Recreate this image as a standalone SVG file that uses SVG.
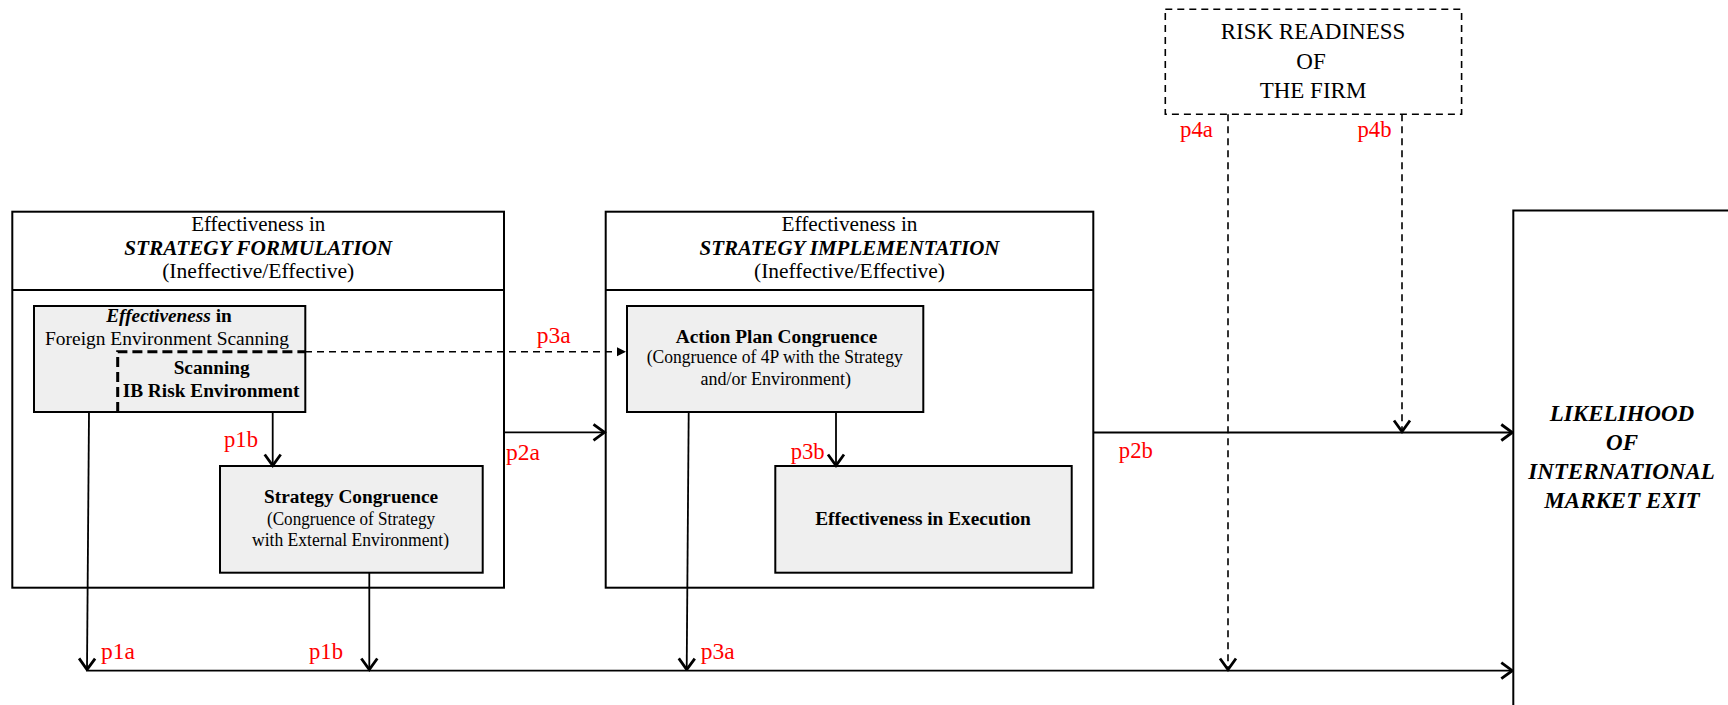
<svg xmlns="http://www.w3.org/2000/svg" width="1728" height="705" viewBox="0 0 1728 705">
  <defs>
    <style>
      text { font-family: "Liberation Serif", "Times New Roman", serif; fill: #000; }
      .hdr { font-size: 21px; text-anchor: middle; }
      .bi { font-weight: bold; font-style: italic; }
      .b { font-weight: bold; }
      .box { font-size: 19.3px; text-anchor: middle; }
      .sub { font-size: 18px; text-anchor: middle; }
      .lbl { font-size: 24px; fill: #ff0000; }
      .frame { fill: #fff; stroke: #000; stroke-width: 2; }
      .inner { fill: #efefef; stroke: #000; stroke-width: 2; }
      .conn { fill: none; stroke: #000; stroke-width: 1.8; }
      .dash { fill: none; stroke: #000; stroke-width: 1.6; stroke-dasharray: 7 5; }
    </style>
    <marker id="open" viewBox="-14 -11 16 22" refX="0" refY="0" markerWidth="16" markerHeight="22" markerUnits="userSpaceOnUse" orient="auto">
      <path d="M-11,-8 L0,0 L-11,8" fill="none" stroke="#000" stroke-width="2.8" stroke-dasharray="none"/>
    </marker>
    <marker id="solid" viewBox="-10 -6 12 12" refX="0" refY="0" markerWidth="12" markerHeight="12" markerUnits="userSpaceOnUse" orient="auto">
      <path d="M-9,-4.5 L0,0 L-9,4.5 Z" fill="#000" stroke="none"/>
    </marker>
  </defs>

  <rect width="1728" height="705" fill="#fff"/>

  <!-- Strategy formulation frame -->
  <g id="formulation">
    <rect class="frame" x="12.3" y="211.7" width="491.7" height="376"/>
    <line x1="12.3" y1="290" x2="504" y2="290" stroke="#000" stroke-width="2"/>
    <text class="hdr" x="258.2" y="230.5" textLength="134" lengthAdjust="spacingAndGlyphs">Effectiveness in</text>
    <text class="hdr bi" x="258.2" y="254.7" textLength="268" lengthAdjust="spacingAndGlyphs">STRATEGY FORMULATION</text>
    <text class="hdr" x="258.2" y="278" textLength="192" lengthAdjust="spacingAndGlyphs">(Ineffective/Effective)</text>
  </g>

  <!-- Environment scanning box with nested IB risk scanning -->
  <g id="scanning">
    <rect class="inner" x="34" y="306" width="271.3" height="106"/>
    <text class="box" x="169" y="321.7"><tspan class="bi">Effectiveness</tspan><tspan class="b"> in</tspan></text>
    <text class="box" x="167" y="345" font-size="19.4" textLength="244" lengthAdjust="spacingAndGlyphs">Foreign Environment Scanning</text>
    <path d="M117.7,412 V351.7 H305" fill="none" stroke="#000" stroke-width="3" stroke-dasharray="10 5"/>
    <text class="box b" x="211.7" y="374">Scanning</text>
    <text class="box b" x="211" y="396.7" textLength="176.7" lengthAdjust="spacingAndGlyphs">IB Risk Environment</text>
  </g>

  <!-- Strategy congruence box -->
  <g id="strategy-congruence">
    <rect class="inner" x="220" y="466" width="262.7" height="106.7"/>
    <text class="box b" x="351" y="502.7">Strategy Congruence</text>
    <text class="sub" x="351" y="525.3" textLength="168" lengthAdjust="spacingAndGlyphs">(Congruence of Strategy</text>
    <text class="sub" x="350.5" y="546" textLength="197" lengthAdjust="spacingAndGlyphs">with External Environment)</text>
  </g>

  <!-- Strategy implementation frame -->
  <g id="implementation">
    <rect class="frame" x="605.7" y="211.7" width="487.6" height="376"/>
    <line x1="605.7" y1="290" x2="1093.3" y2="290" stroke="#000" stroke-width="2"/>
    <text class="hdr" x="849.5" y="230.5" textLength="136" lengthAdjust="spacingAndGlyphs">Effectiveness in</text>
    <text class="hdr bi" x="849.5" y="254.7" textLength="300" lengthAdjust="spacingAndGlyphs">STRATEGY IMPLEMENTATION</text>
    <text class="hdr" x="849.5" y="278" textLength="191" lengthAdjust="spacingAndGlyphs">(Ineffective/Effective)</text>
  </g>

  <!-- Action plan congruence box -->
  <g id="action-plan">
    <rect class="inner" x="627" y="306" width="296.3" height="106"/>
    <text class="box b" x="776.5" y="342.7">Action Plan Congruence</text>
    <text class="sub" x="774.7" y="363.3" textLength="256" lengthAdjust="spacingAndGlyphs">(Congruence of 4P with the Strategy</text>
    <text class="sub" x="775.7" y="385">and/or Environment)</text>
  </g>

  <!-- Execution box -->
  <g id="execution">
    <rect class="inner" x="775.3" y="466" width="296.4" height="106.7"/>
    <text class="box b" x="923" y="525" textLength="215.7" lengthAdjust="spacingAndGlyphs">Effectiveness in Execution</text>
  </g>

  <!-- Risk readiness (moderator) -->
  <g id="risk-readiness">
    <rect x="1165.3" y="9.3" width="296.3" height="105" fill="#fff" stroke="#000" stroke-width="1.6" stroke-dasharray="7 5"/>
    <text x="1313" y="39" font-size="23" text-anchor="middle">RISK READINESS</text>
    <text x="1311" y="68.5" font-size="23" text-anchor="middle">OF</text>
    <text x="1313" y="97.5" font-size="23" text-anchor="middle">THE FIRM</text>
  </g>

  <!-- Outcome -->
  <g id="market-exit">
    <rect class="frame" x="1513.3" y="210.5" width="300" height="600"/>
    <text class="bi" x="1622" y="421" font-size="23" text-anchor="middle">LIKELIHOOD</text>
    <text class="bi" x="1622" y="450" font-size="23" text-anchor="middle">OF</text>
    <text class="bi" x="1621.5" y="479" font-size="23" text-anchor="middle">INTERNATIONAL</text>
    <text class="bi" x="1622" y="507.5" font-size="23" text-anchor="middle">MARKET EXIT</text>
  </g>

  <!-- Connectors -->
  <g id="connectors">
    <!-- p3a dashed link from risk scanning to action plan -->
    <line class="dash" x1="305" y1="351.7" x2="626" y2="351.7" marker-end="url(#solid)"/>
    <!-- p1a -->
    <line class="conn" x1="89" y1="412" x2="87" y2="669.5" marker-end="url(#open)"/>
    <!-- p1b upper -->
    <line class="conn" x1="272.7" y1="412" x2="272.7" y2="465.5" marker-end="url(#open)"/>
    <!-- p1b lower -->
    <line class="conn" x1="369.3" y1="572.7" x2="369.3" y2="669.5" marker-end="url(#open)"/>
    <!-- p2a -->
    <line class="conn" x1="504" y1="432.3" x2="604.5" y2="432.3" marker-end="url(#open)"/>
    <!-- p3a lower -->
    <line class="conn" x1="688.7" y1="412" x2="686.7" y2="669.5" marker-end="url(#open)"/>
    <!-- p3b -->
    <line class="conn" x1="836" y1="412" x2="836" y2="465.5" marker-end="url(#open)"/>
    <!-- p2b -->
    <line class="conn" x1="1093.3" y1="432.5" x2="1512.3" y2="432.5" marker-end="url(#open)"/>
    <!-- bottom path into market exit -->
    <line class="conn" x1="86" y1="670.7" x2="1512.3" y2="670.7" marker-end="url(#open)"/>
    <!-- p4a / p4b moderating links -->
    <line class="dash" x1="1228" y1="114.3" x2="1228" y2="669.5" marker-end="url(#open)"/>
    <line class="dash" x1="1402" y1="114.3" x2="1402" y2="431.5" marker-end="url(#open)"/>
  </g>

  <!-- Path labels -->
  <g id="labels">
    <text class="lbl" x="224" y="446.7" textLength="34" lengthAdjust="spacingAndGlyphs">p1b</text>
    <text class="lbl" x="101" y="659.3" textLength="34" lengthAdjust="spacingAndGlyphs">p1a</text>
    <text class="lbl" x="309" y="659.3" textLength="34" lengthAdjust="spacingAndGlyphs">p1b</text>
    <text class="lbl" x="536.7" y="343" textLength="34" lengthAdjust="spacingAndGlyphs">p3a</text>
    <text class="lbl" x="506" y="459.5" textLength="34" lengthAdjust="spacingAndGlyphs">p2a</text>
    <text class="lbl" x="790.7" y="459.3" textLength="34" lengthAdjust="spacingAndGlyphs">p3b</text>
    <text class="lbl" x="700.7" y="659" textLength="34" lengthAdjust="spacingAndGlyphs">p3a</text>
    <text class="lbl" x="1118.8" y="458" textLength="34" lengthAdjust="spacingAndGlyphs">p2b</text>
    <text class="lbl" x="1180" y="137" textLength="33" lengthAdjust="spacingAndGlyphs">p4a</text>
    <text class="lbl" x="1357.5" y="137" textLength="34" lengthAdjust="spacingAndGlyphs">p4b</text>
  </g>
</svg>
